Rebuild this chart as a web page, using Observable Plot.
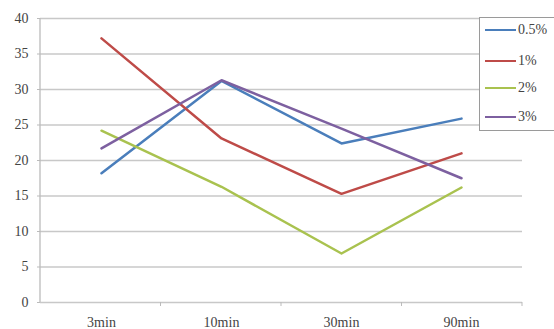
<!DOCTYPE html>
<html>
<head>
<meta charset="utf-8">
<script src="https://cdn.jsdelivr.net/npm/d3@7"></script>
<script src="https://cdn.jsdelivr.net/npm/@observablehq/plot@0.6"></script>
<style>
  html, body { margin: 0; padding: 0; background: #fff; }
  #wrap { position: relative; width: 554px; height: 329px; overflow: hidden; }
  #wrap svg, #wrap svg text { font-family: 'Liberation Serif', 'Times New Roman', serif !important; }
  #legend {
    position: absolute; left: 479px; top: 17px; width: 82px; height: 114px;
    border: 1px solid #9a9a9a; box-sizing: border-box; background: #fff;
    font-family: 'Liberation Serif', 'Times New Roman', serif; font-size: 14px; line-height: 16px; color: #444;
  }
  .item { position: absolute; left: 5px; display: flex; align-items: center; }
  .swatch { width: 31px; height: 0; border-top: 2.5px solid; margin-right: 2px; }
</style>
</head>
<body>
<div id="wrap"><div id="legend"></div></div>
<script>
// Sampling times and concentration series
const times = ["3min", "10min", "30min", "90min"];
const series = ["0.5%", "1%", "2%", "3%"];
const colors = ["#4a7ebb", "#be4b48", "#a9c24f", "#7d60a0"];
const v05 = [18.2, 31.2, 22.4, 25.9];
const v1 = [37.2, 23.1, 15.3, 21.0];
const v2 = [24.2, 16.3, 6.9, 16.2];
const v3 = [21.7, 31.3, 24.5, 17.5];
const yTicks = [0, 5, 10, 15, 20, 25, 30, 35, 40];

const values = [v05, v1, v2, v3];
const rows = series.flatMap((s, i) => times.map((t, j) => ({series: s, time: t, value: values[i][j]})));

const chart = Plot.plot({
  width: 554,
  height: 329,
  marginLeft: 40,
  marginRight: 32,
  marginTop: 18,
  marginBottom: 27,
  style: {fontFamily: "'Liberation Serif', 'Times New Roman', serif", fontSize: "14px", color: "#444"},
  x: {type: "point", domain: times, padding: 0.5, label: null},
  y: {domain: [0, 40], ticks: yTicks, label: null},
  color: {domain: series, range: colors},
  marks: [
    Plot.gridY(yTicks, {stroke: "#c8c8c8", strokeOpacity: 1, strokeWidth: 1.3}),
    Plot.axisY({ticks: yTicks, tickSize: 3, tickPadding: 9, stroke: "#bbb", fontSize: 14}),
    Plot.axisX({tickSize: 0, tickPadding: 15, fontSize: 14}),
    Plot.lineY(rows, {x: "time", y: "value", z: "series", stroke: "series", strokeWidth: 2.5})
  ]
});
document.getElementById("wrap").prepend(chart);

// Serif face on every tick label
const svg = d3.select(chart);
svg.selectAll("text")
  .attr("font-family", "Liberation Serif")
  .style("font-family", "'Liberation Serif', 'Times New Roman', serif")
  .style("font-size", "14px");

// Vertical axis line and small category dividers along the baseline
svg.append("line").attr("x1", 40).attr("x2", 40).attr("y1", 18).attr("y2", 302)
  .attr("stroke", "#bbb").attr("stroke-width", 1.3);
const step = (522 - 40) / times.length;
for (let i = 1; i <= times.length; i++) {
  svg.append("line").attr("x1", 40 + i * step).attr("x2", 40 + i * step)
    .attr("y1", 302).attr("y2", 306).attr("stroke", "#bbb");
}

// Legend
const legend = document.getElementById("legend");
const tops = [4, 35, 62, 91];
series.forEach((s, i) => {
  const item = document.createElement("div");
  item.className = "item";
  item.style.top = tops[i] + "px";
  item.innerHTML = `<span class="swatch" style="border-color:${colors[i]}"></span><span>${s}</span>`;
  legend.appendChild(item);
});
</script>
</body>
</html>
